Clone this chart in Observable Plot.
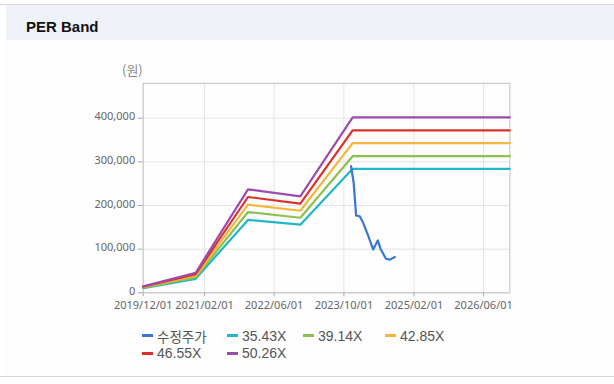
<!DOCTYPE html>
<html><head><meta charset="utf-8">
<script src="https://cdn.jsdelivr.net/npm/d3@7"></script>
<script src="https://cdn.jsdelivr.net/npm/@observablehq/plot@0.6"></script>
<style>
body{margin:0;width:614px;height:384px;background:#fff;position:relative;overflow:hidden;font-family:"Liberation Sans",Arial,sans-serif;}
#topline{position:absolute;left:0;top:4px;width:614px;height:1px;background:#d6d6d6}
#header{position:absolute;left:6px;top:5px;width:608px;height:35px;background:#eef2f8;}
#title{position:absolute;left:20px;top:13px;font-weight:bold;font-size:15px;color:#111;line-height:18px}
#body{position:absolute;left:6px;top:40px;width:608px;height:336px;background:#fdfdfd}
#bottomline{position:absolute;left:0;top:376px;width:614px;height:1px;background:#d6d6d6}
#unit{position:absolute;left:122px;top:62px;font-size:13px;color:#888;font-family:"Noto Sans CJK KR",sans-serif;line-height:16px}
#chart{position:absolute;left:0;top:60px}
#legend{position:absolute;left:142px;top:327px;width:330px;display:flex;flex-wrap:wrap}
.item{display:flex;align-items:center;height:17.5px;font-size:14px;color:#555}
.sw{width:11px;height:3px;margin-right:4px}
.ko{font-family:"Noto Sans CJK KR",sans-serif;font-size:13.5px}
</style>
</head><body>
<div id="topline"></div>
<div id="header"><div id="title">PER Band</div></div>
<div id="body"></div>
<div id="bottomline"></div>
<div id="unit">(원)</div>
<div id="chart"></div>
<div id="legend"></div>
<script>
// ---- data ----
const bandDates = ["2019-12-01","2020-12-01","2021-12-01","2022-12-01","2023-12-01","2026-12-01"];
const band3543 = [10600, 32000, 167000, 156000, 284000, 284000];
const band3914 = [11700, 35500, 185000, 172000, 313000, 313000];
const band4285 = [12800, 39000, 202000, 188000, 343000, 343000];
const band4655 = [13900, 42500, 219500, 204500, 372000, 372000];
const band5026 = [15000, 46000, 237000, 221000, 402000, 402000];

const priceDates = ["2023-11-20","2023-12-08","2023-12-25","2024-01-20","2024-02-10","2024-03-18","2024-04-22","2024-05-24","2024-06-12","2024-07-20","2024-08-17","2024-09-20"];
const priceValues = [290000, 252000, 177000, 175000, 162000, 131000, 99000, 120000, 101000, 78000, 76000, 82000];

const seriesNames = ["수정주가","35.43X","39.14X","42.85X","46.55X","50.26X"];
const seriesColors = ["#3a76d3","#22b6c9","#8cc04f","#f6b53d","#d8322b","#9b4cad"];

const xTickLabels = ["2019-12-01","2021-02-01","2022-06-01","2023-10-01","2025-02-01","2026-06-01"];
const xDomain = ["2019-12-01","2026-12-01"];
const yTicks = [0, 100000, 200000, 300000, 400000];
const yDomain = [0, 480000];

// ---- build ----
const parse = d3.utcParse("%Y-%m-%d");
const bands = [band3543, band3914, band4285, band4655, band5026];
const rows = [];
bands.forEach((arr, i) => arr.forEach((v, j) => rows.push({date: parse(bandDates[j]), value: v, series: seriesNames[i + 1]})));
const priceRows = priceDates.map((d, i) => ({date: parse(d), value: priceValues[i], series: seriesNames[0]}));
const xTicks = xTickLabels.map(parse);

const chart = Plot.plot({
  width: 614,
  height: 260,
  marginTop: 22.8,
  marginBottom: 27.7,
  marginLeft: 142.7,
  marginRight: 104.7,
  style: {background: "transparent", overflow: "visible"},
  x: {type: "utc", domain: xDomain.map(parse), label: null},
  y: {domain: yDomain, label: null},
  color: {domain: seriesNames, range: seriesColors},
  marks: [
    Plot.gridX(xTicks, {stroke: "#e4e4e4", strokeOpacity: 1}),
    Plot.gridY(yTicks, {stroke: "#e4e4e4", strokeOpacity: 1}),
    Plot.frame({stroke: "#c4c4c4"}),
    Plot.axisX(xTicks, {tickSize: 4, tickPadding: 4, tickFormat: d3.utcFormat("%Y/%m/%d"), fontSize: 11, fill: "#666", stroke: "#aaa", label: null}),
    Plot.axisY(yTicks, {tickSize: 5, tickFormat: () => "", stroke: "#aaa", label: null}),
    Plot.axisY(yTicks, {tickSize: 0, tickPadding: 8, tickFormat: d3.format(","), fontSize: 11, fill: "#666", label: null, dy: -1.5}),
    Plot.line(rows, {x: "date", y: "value", z: "series", stroke: "series", strokeWidth: 2.2}),
    Plot.line(priceRows, {x: "date", y: "value", stroke: "series", strokeWidth: 2.2})
  ]
});
document.getElementById("chart").appendChild(chart);

// ---- legend ----
const itemWidths = [85, 76, 82, 80, 85, 80];
const legend = document.getElementById("legend");
seriesNames.forEach((name, i) => {
  const it = document.createElement("div");
  it.className = "item";
  it.style.width = itemWidths[i] + "px";
  const sw = document.createElement("span");
  sw.className = "sw";
  sw.style.background = seriesColors[i];
  const tx = document.createElement("span");
  tx.textContent = name;
  if (i === 0) tx.className = "ko";
  it.appendChild(sw); it.appendChild(tx);
  legend.appendChild(it);
});
</script>
</body></html>
